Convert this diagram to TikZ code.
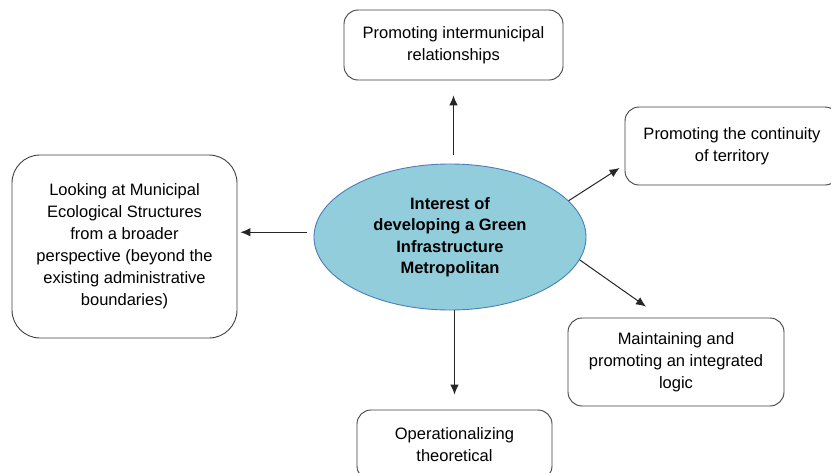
\documentclass[tikz,border=0pt]{standalone}
\usepackage{fontspec}
\setmainfont{Liberation Sans}
\usepackage{xcolor}
\usetikzlibrary{shapes.geometric, arrows.meta}
\definecolor{lightblue}{HTML}{92CDDC}
\definecolor{edgeblue}{HTML}{4A7EBB}
\definecolor{boxline}{HTML}{404040}
\tikzstyle{goal} = [rectangle, rounded corners=14pt, align=center, draw=boxline, line width=0.9pt, fill=white, font=\fontsize{16.5}{22}\selectfont]
\tikzstyle{interest} = [ellipse, align=center, draw=edgeblue, line width=0.9pt, fill=lightblue, inner sep=0pt, font=\bfseries\fontsize{16.5}{21.5}\selectfont]
\tikzstyle{arrow} = [line width=1pt, draw=black!85, ->, >={Latex[length=10pt, width=8.5pt]}]

\begin{document}
\begin{tikzpicture}[x=1pt, y=-1pt]
    \useasboundingbox (0,0) rectangle (831,472);
    \fill [white] (0,0) rectangle (831,472);
    \clip (0,0) rectangle (831,472);
    \node (ell) [interest, minimum width=272pt, minimum height=146pt] at (450,237) {Interest of\\developing a Green\\Infrastructure\\Metropolitan};
    \node (top) [goal, minimum width=219pt, minimum height=70pt] at (453.5,45) {Promoting intermunicipal\\relationships};
    \node (right) [goal, minimum width=214pt, minimum height=78pt] at (732,146) {Promoting the continuity\\of territory};
    \node (left) [goal, rounded corners=28pt, minimum width=225pt, minimum height=183pt] at (124.5,246.5) {Looking at Municipal\\Ecological Structures\\from a broader\\perspective (beyond the\\existing administrative\\boundaries)};
    \node (main) [goal, minimum width=216pt, minimum height=88pt] at (676,362) {Maintaining and\\promoting an integrated\\logic};
    \node (bot) [goal, minimum width=195pt, minimum height=70pt] at (454.5,445) {Operationalizing\\theoretical};
    \draw [arrow, shorten <=9pt, shorten >=15pt] (top |- ell.north) -- (top.south);
    \draw [arrow] (ell.17) -- ([xshift=-5pt, yshift=-22pt]right.west);
    \draw [arrow, shorten <=7pt, shorten >=3pt] (ell.178) -- (ell.178 -| left.east);
    \draw [arrow] (ell.-10) -- ([xshift=-30pt, yshift=11pt]main.north);
    \draw [arrow, shorten >=15pt] (bot |- ell.south) -- (bot.north);
\end{tikzpicture}
\end{document}
